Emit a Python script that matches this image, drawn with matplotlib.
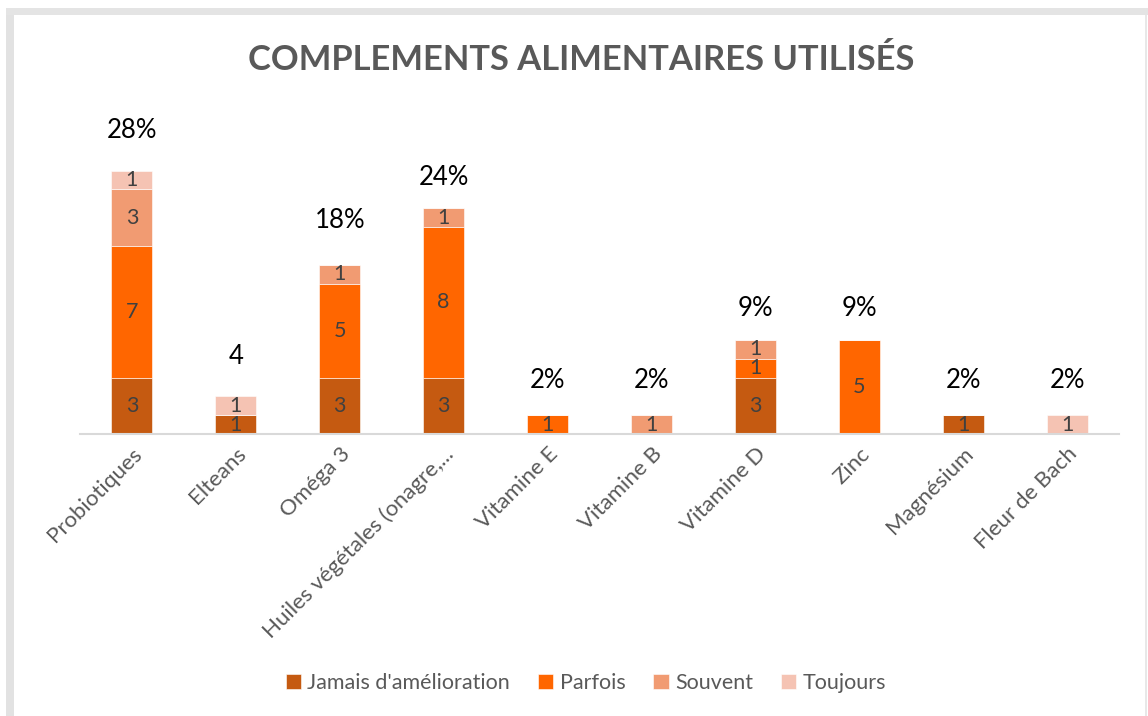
import matplotlib.pyplot as plt
import matplotlib.patches as mpatches
import numpy as np

plt.rcParams["font.family"] = ["Lato", "DejaVu Sans"]

CATEGORIES = ["Probiotiques", "Elteans", "Oméga 3", "Huiles végétales (onagre,...",
              "Vitamine E", "Vitamine B", "Vitamine D", "Zinc", "Magnésium", "Fleur de Bach"]

JAMAIS   = [3, 1, 3, 3, 0, 0, 3, 0, 1, 0]
PARFOIS  = [7, 0, 5, 8, 1, 0, 1, 5, 0, 0]
SOUVENT  = [3, 0, 1, 1, 0, 1, 1, 0, 0, 0]
TOUJOURS = [1, 1, 0, 0, 0, 0, 0, 0, 0, 1]

TOTAL_LABELS = ["28%", "4", "18%", "24%", "2%", "2%", "9%", "9%", "2%", "2%"]

SERIES = [
    ("Jamais d'amélioration", JAMAIS,   "#C55A11"),
    ("Parfois",               PARFOIS,  "#FF6600"),
    ("Souvent",               SOUVENT,  "#F19B72"),
    ("Toujours",              TOUJOURS, "#F5C3B3"),
]

# décalage vertical (pixels) des étiquettes de total au-dessus des barres
DECALAGE = [40, 40, 44, 31, 35, 35, 31, 31, 35, 35]

fig = plt.figure(figsize=(11.48, 7.16), dpi=100)
fig.patch.set_facecolor("white")

# cadre gris avec ombre en haut et à gauche
W, H = 1148, 716
fig.patches.append(mpatches.Rectangle((6 / W, 0), 8 / W, 1 - 8 / H, transform=fig.transFigure,
                                      facecolor="#E2E2E2", edgecolor="none", zorder=0))
fig.patches.append(mpatches.Rectangle((6 / W, 1 - 15 / H), 1 - 6 / W, 7 / H, transform=fig.transFigure,
                                      facecolor="#E4E4E4", edgecolor="none", zorder=0))
fig.patches.append(mpatches.Rectangle((1145 / W, 0), 2 / W, 1 - 15 / H, transform=fig.transFigure,
                                      facecolor="#E8E8E8", edgecolor="none", zorder=0))

ax = fig.add_axes([80 / W, 1 - 434 / H, 1039 / W, (434 - 133) / H])
ax.set_facecolor("white")

x = np.arange(len(CATEGORIES))
largura = 0.395
base = np.zeros(len(CATEGORIES))

for nome, valores, cor in SERIES:
    valores = np.array(valores, dtype=float)
    barras = ax.bar(x, valores, largura, bottom=base, color=cor, label=nome,
                    edgecolor="white", linewidth=0.4, zorder=2)
    for i, b in enumerate(barras):
        if valores[i] > 0:
            ax.text(b.get_x() + b.get_width() / 2, base[i] + valores[i] / 2,
                    f"{int(valores[i])}", ha="center", va="center",
                    fontsize=15.5, color="#404040", zorder=3)
    base += valores

for i in range(len(CATEGORIES)):
    ax.annotate(TOTAL_LABELS[i], (x[i], base[i]), xytext=(0, DECALAGE[i] * 0.72),
                textcoords="offset points", ha="center", va="center",
                fontsize=18.5, color="black")

ax.set_xlim(-0.5, len(CATEGORIES) - 0.5)
ax.set_ylim(0, 16)
ax.set_yticks([])
for s in ["top", "right", "left"]:
    ax.spines[s].set_visible(False)
ax.spines["bottom"].set_color("#D9D9D9")
ax.spines["bottom"].set_linewidth(1.5)
ax.tick_params(axis="x", length=0, pad=7)
ax.set_xticks(x)
ax.set_xticklabels(CATEGORIES, rotation=45, ha="right", rotation_mode="anchor",
                   fontsize=16, color="#595959")

fig.text(581 / W, 1 - 60 / H, "COMPLEMENTS ALIMENTAIRES UTILISÉS", ha="center", va="center",
         fontsize=24.8, fontweight="bold", color="#595959")

fig.legend(loc="center", bbox_to_anchor=(586 / W, 1 - 683 / H), ncol=4, frameon=False,
           fontsize=15.5, labelcolor="#595959", handlelength=0.7, handleheight=0.7,
           handletextpad=0.3, columnspacing=1.3)

plt.savefig("out.png", dpi=100, facecolor="white")
plt.close()
